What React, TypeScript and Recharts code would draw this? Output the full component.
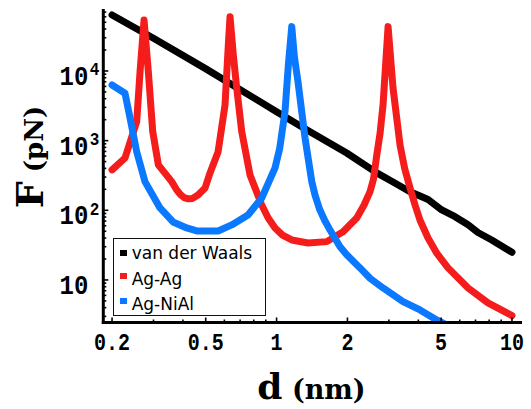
import React from 'react';
import { LineChart, Line, XAxis, YAxis, Legend } from 'recharts';

// ---------- data ----------
const vdwD = [0.2, 0.3, 0.497, 1.0, 1.387, 1.986, 2.665, 3.124, 3.689, 4.068, 4.4, 5.03, 5.73, 6.51, 7.17, 8.2, 10];
const vdwF = [63700, 29500, 10900, 2600, 1346, 665, 344, 255, 185, 160, 143, 101, 81, 62, 48, 37.5, 25];

const agAgD = [0.2, 0.227, 0.2545, 0.263, 0.2735, 0.2852, 0.2978, 0.3146, 0.3585, 0.375, 0.389, 0.405, 0.4207, 0.44, 0.4637, 0.4968, 0.5215, 0.5641, 0.6039, 0.6237, 0.6342, 0.655, 0.677, 0.7112, 0.7712, 0.8648, 0.92, 0.985, 1.06, 1.16, 1.36, 1.634, 1.916, 2.19, 2.35, 2.495, 2.58, 2.665, 2.75, 2.833, 2.976, 3.124, 3.345, 3.5, 3.689, 3.875, 4.068, 4.4, 4.8, 5.35, 6.51, 7.91, 10];
const agAgF = [380, 564, 1870, 9770, 53900, 9800, 1346, 448, 258, 200, 170, 152, 146, 148, 166, 209, 344, 688, 3250, 23600, 60100, 16960, 5700, 1346, 322, 119, 78, 55.8, 44, 37.5, 33.9, 35.5, 49.3, 77.6, 118, 185, 280, 622, 1250, 3250, 43300, 5700, 867, 400, 209, 119, 72, 40.1, 24, 14.9, 7.67, 4.68, 3.08];

const agNiAlD = [0.2, 0.227, 0.2385, 0.2545, 0.276, 0.3197, 0.3632, 0.4153, 0.4579, 0.5215, 0.5641, 0.6448, 0.7562, 0.8648, 0.985, 1.03, 1.086, 1.122, 1.16, 1.19, 1.233, 1.321, 1.411, 1.457, 1.52, 1.6, 1.687, 1.86, 1.986, 2.262, 2.5, 2.833, 3.445, 4.068, 4.79, 5.5];
const agNiAlF = [6300, 4790, 2115, 695, 258, 108, 68, 55.8, 50.5, 50.5, 50.5, 61.7, 85.7, 150, 406, 760, 2610, 12200, 43300, 16000, 7020, 1092, 258, 165, 105, 72, 52, 30, 23, 14.9, 10.5, 7.67, 4.89, 3.71, 2.67, 2.1];

const seriesNames = ['van der Waals', 'Ag-Ag', 'Ag-NiAl'];
const seriesColors = ['#000000', '#f51c1c', '#0a78ff'];

const xDomain = [0.1836, 10.87];
const yDomain = [2.45, 73800];

const xMajor = [0.2, 0.5, 1, 2, 5, 10];
const xMajorLabels = ['0.2', '0.5', '1', '2', '5', '10'];
const xMinor = [0.3, 0.4, 0.6, 0.7, 0.8, 0.9, 3, 4, 6, 7, 8, 9];

const yMajor = [10, 100, 1000, 10000];
const yMajorExp = ['', '2', '3', '4'];
const yMinor = [3, 4, 5, 6, 7, 8, 9, 20, 30, 40, 50, 60, 70, 80, 90, 200, 300, 400, 500, 600, 700, 800, 900, 2000, 3000, 4000, 5000, 6000, 7000, 8000, 9000, 20000, 30000, 40000, 50000, 60000, 70000];

const xAxisTitleMain = 'd';
const xAxisTitleUnit = ' (nm)';
const yAxisTitleMain = 'F';
const yAxisTitleUnit = ' (pN)';

// ---------- derived tables ----------
const toRows = (ds: number[], fs: number[]) => ds.map((d, i) => ({ d, F: fs[i] }));
const vdwData = toRows(vdwD, vdwF);
const agAgData = toRows(agAgD, agAgF);
const agNiAlData = toRows(agNiAlD, agNiAlF);

const xAllTicks = [...xMajor, ...xMinor].sort((a, b) => a - b);
const yAllTicks = [...yMajor, ...yMinor].sort((a, b) => a - b);

const MONO = '"Liberation Mono", "DejaVu Sans Mono", monospace';
const SERIF = '"DejaVu Serif", serif';

const BottomTick = (props: any) => {
  const { x, y, payload } = props;
  const idx = xMajor.indexOf(payload.value);
  const major = idx >= 0;
  return (
    <g>
      <line x1={x} x2={x} y1={y} y2={y - (major ? 5 : 3)} stroke="#000" strokeWidth={1.6} />
      {major && (
        <text
          transform={`translate(${x},${y + 27.5}) scale(1,1.15)`}
          textAnchor="middle"
          fontFamily={MONO}
          fontWeight="bold"
          fontSize={20}
          fill="#000"
        >
          {xMajorLabels[idx]}
        </text>
      )}
    </g>
  );
};

const TopTick = (props: any) => {
  const { x, y } = props;
  return <line x1={x} x2={x} y1={y} y2={y + 4} stroke="#000" strokeWidth={1.6} />;
};

const LeftTick = (props: any) => {
  const { x, y, payload } = props;
  const idx = yMajor.indexOf(payload.value);
  const major = idx >= 0;
  return (
    <g>
      <line x1={x} x2={x + (major ? 5 : 3)} y1={y} y2={y} stroke="#000" strokeWidth={1.6} />
      {major && (
        <g transform={`translate(${x - 15},${y + 14}) scale(1,1.15)`} fontFamily={MONO} fontWeight="bold" fill="#000">
          <text x={0} y={0} textAnchor="end" fontSize={24}>10</text>
          {yMajorExp[idx] && (
            <text x={1.5} y={-8.5} textAnchor="start" fontSize={16}>{yMajorExp[idx]}</text>
          )}
        </g>
      )}
    </g>
  );
};

const RightTick = (props: any) => {
  const { x, y, payload } = props;
  const major = yMajor.indexOf(payload.value) >= 0;
  return <line x1={x} x2={x - (major ? 5 : 3)} y1={y} y2={y} stroke="#000" strokeWidth={1.6} />;
};

const legendBaselines = [19.5, 45.2, 70.2];
const legendMarkerTops = [10.5, 33.7, 58.7];

const renderLegend = () => (
  <div
    style={{
      position: 'relative',
      width: 153,
      height: 78,
      boxSizing: 'border-box',
      border: '1.5px solid #111',
      background: '#fff',
      fontFamily: '"DejaVu Sans", sans-serif',
      fontSize: 17,
      color: '#000',
    }}
  >
    {seriesNames.map((name, i) => (
      <React.Fragment key={name}>
        <div
          style={{
            position: 'absolute',
            left: 6.5,
            top: legendMarkerTops[i],
            width: 6.5,
            height: 6.5,
            background: seriesColors[i],
          }}
        />
        <div
          style={{
            position: 'absolute',
            left: 18,
            top: legendBaselines[i] - 18.9,
            lineHeight: '26px',
            height: 26,
            whiteSpace: 'nowrap',
          }}
        >
          {name}
        </div>
      </React.Fragment>
    ))}
  </div>
);

const lineCommon = {
  xAxisId: 'b',
  yAxisId: 'l',
  dataKey: 'F',
  strokeWidth: 7,
  strokeLinecap: 'round' as const,
  strokeLinejoin: 'round' as const,
  dot: false,
  type: 'linear' as const,
  isAnimationActive: false,
};

export default function App() {
  return (
    <div style={{ position: 'absolute', left: 0, top: 0 }}>
      <LineChart
        width={531}
        height={409}
        margin={{ top: 10.5, right: 10.5, left: 0, bottom: 0 }}
        style={{ background: '#fff' }}
      >
        <XAxis
          xAxisId="b"
          dataKey="d"
          type="number"
          scale="log"
          domain={xDomain}
          allowDataOverflow
          ticks={xAllTicks}
          interval={0}
          tick={BottomTick}
          tickSize={0}
          tickMargin={0}
          tickLine={false}
          height={86.5}
          axisLine={{ stroke: '#000', strokeWidth: 3, strokeLinecap: 'square' }}
          label={() => (
            <text
              x={311.5}
              y={399}
              textAnchor="middle"
              fontFamily={SERIF}
              fontWeight="bold"
              fill="#000"
            >
              <tspan fontSize={36}>{xAxisTitleMain}</tspan>
              <tspan fontSize={27}>{xAxisTitleUnit}</tspan>
            </text>
          )}
        />
        <XAxis
          xAxisId="t"
          orientation="top"
          dataKey="d"
          type="number"
          scale="log"
          domain={xDomain}
          allowDataOverflow
          ticks={xMajor}
          interval={0}
          tick={TopTick}
          tickSize={0}
          tickMargin={0}
          tickLine={false}
          height={0}
          axisLine={{ stroke: '#000', strokeWidth: 3, strokeLinecap: 'square' }}
        />
        <YAxis
          yAxisId="l"
          dataKey="F"
          type="number"
          scale="log"
          domain={yDomain}
          allowDataOverflow
          ticks={yAllTicks}
          interval={0}
          tick={LeftTick}
          tickSize={0}
          tickMargin={0}
          tickLine={false}
          width={103.3}
          axisLine={{ stroke: '#000', strokeWidth: 3, strokeLinecap: 'square' }}
          label={() => (
            <text
              transform="translate(43,157) rotate(-90)"
              textAnchor="middle"
              fontFamily={SERIF}
              fontWeight="bold"
              fill="#000"
            >
              <tspan fontSize={38}>{yAxisTitleMain}</tspan>
              <tspan fontSize={26}>{yAxisTitleUnit}</tspan>
            </text>
          )}
        />
        <YAxis
          yAxisId="r"
          orientation="right"
          dataKey="F"
          type="number"
          scale="log"
          domain={yDomain}
          allowDataOverflow
          ticks={yAllTicks}
          interval={0}
          tick={RightTick}
          tickSize={0}
          tickMargin={0}
          tickLine={false}
          width={0}
          axisLine={{ stroke: '#000', strokeWidth: 3, strokeLinecap: 'square' }}
        />
        <Line {...lineCommon} data={vdwData} name={seriesNames[0]} stroke={seriesColors[0]} />
        <Line {...lineCommon} data={agAgData} name={seriesNames[1]} stroke={seriesColors[1]} />
        <Line {...lineCommon} data={agNiAlData} name={seriesNames[2]} stroke={seriesColors[2]} />
        <Legend
          content={renderLegend}
          layout="vertical"
          align="center"
          verticalAlign="middle"
          wrapperStyle={{ left: 112.7, top: 238.3, width: 153, height: 78 }}
        />
      </LineChart>
    </div>
  );
}
